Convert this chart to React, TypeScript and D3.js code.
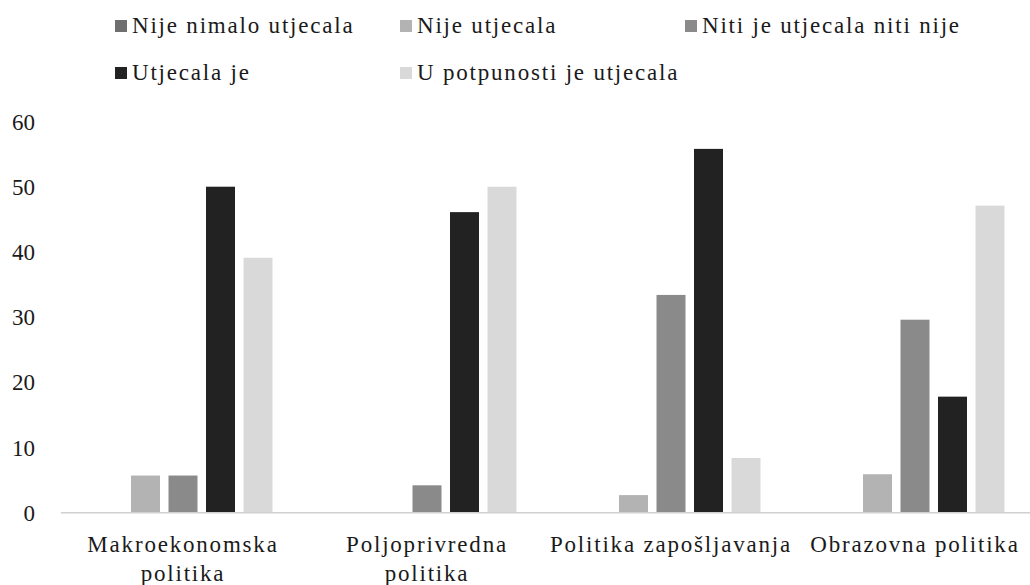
import React from "react";
import * as d3 from "d3";

const categories = [
  ["Makroekonomska", "politika"],
  ["Poljoprivredna", "politika"],
  ["Politika zapošljavanja"],
  ["Obrazovna politika"],
];
const categoryKeys = ["Makroekonomska politika", "Poljoprivredna politika", "Politika zapošljavanja", "Obrazovna politika"];
const seriesNames = [
  "Nije nimalo utjecala",
  "Nije utjecala",
  "Niti je utjecala niti nije",
  "Utjecala je",
  "U potpunosti je utjecala",
];
const nijeNimalo = [0, 0, 0, 0];
const nijeUtjecala = [5.7, 0, 2.7, 5.9];
const nitiNije = [5.7, 4.2, 33.4, 29.6];
const utjecalaJe = [50, 46.1, 55.8, 17.8];
const uPotpunosti = [39.1, 50, 8.4, 47.1];
const seriesValues = [nijeNimalo, nijeUtjecala, nitiNije, utjecalaJe, uPotpunosti];
const colors = ["#6f6f6f", "#b3b3b3", "#8a8a8a", "#222222", "#d9d9d9"];
const yTicks = [0, 10, 20, 30, 40, 50, 60];

const W = 1030;
const H = 585;
const FONT = '"Liberation Serif", "Times New Roman", "DejaVu Serif", serif';
const TEXT = "#1a1a1a";

export default function App() {
  const x0 = d3.scaleBand<string>().domain(categoryKeys).range([61, 1037]).padding(0);
  const x1 = d3
    .scaleBand<string>()
    .domain(seriesNames)
    .range([32.5, 211.5])
    .paddingInner(0.227)
    .paddingOuter(0);
  const y = d3.scaleLinear().domain([0, 60]).range([512.7, 121.5]);

  const legendCols = [115, 400, 685];
  const legendRows = [33, 80];
  const txt = { fontFamily: FONT };

  return (
    <svg
      width={W}
      height={H}
      style={{ position: "absolute", left: 0, top: 0, background: "#fff", fontFamily: FONT }}
    >
      <rect x={0} y={0} width={W} height={H} fill="#fff" />
      {/* legend */}
      {seriesNames.map((name, i) => {
        const col = i < 3 ? i : i - 3;
        const row = i < 3 ? 0 : 1;
        const lx = legendCols[col];
        const ly = legendRows[row];
        return (
          <g key={name}>
            <rect x={lx} y={ly - 13} width={12} height={12} fill={colors[i]} />
            <text x={lx + 17} y={ly} fontSize={23} fill={TEXT} letterSpacing={1.8} style={txt}>
              {name}
            </text>
          </g>
        );
      })}
      {/* y ticks */}
      {yTicks.map((t) => (
        <text key={t} x={35} y={y(t) + 8} fontSize={23} fill={TEXT} textAnchor="end" style={txt}>
          {t}
        </text>
      ))}
      {/* bars */}
      {categoryKeys.map((c, ci) => (
        <g key={c} transform={`translate(${x0(c)},0)`}>
          {seriesNames.map((s, si) => {
            const v = seriesValues[si][ci];
            return (
              <rect
                key={s}
                x={x1(s)}
                y={y(v)}
                width={x1.bandwidth()}
                height={y(0) - y(v)}
                fill={colors[si]}
              />
            );
          })}
        </g>
      ))}
      {/* axis line */}
      <line x1={61} x2={1037} y1={y(0)} y2={y(0)} stroke="#d0d0d0" strokeWidth={1.5} />
      {/* category labels */}
      {categoryKeys.map((c, ci) => {
        const cx = (x0(c) as number) + x0.bandwidth() / 2;
        return (
          <text key={c} x={cx} y={552} fontSize={23} fill={TEXT} textAnchor="middle" letterSpacing={1.8} style={txt}>
            {categories[ci].map((line, li) => (
              <tspan key={li} x={cx} y={552 + li * 29}>
                {line}
              </tspan>
            ))}
          </text>
        );
      })}
    </svg>
  );
}
